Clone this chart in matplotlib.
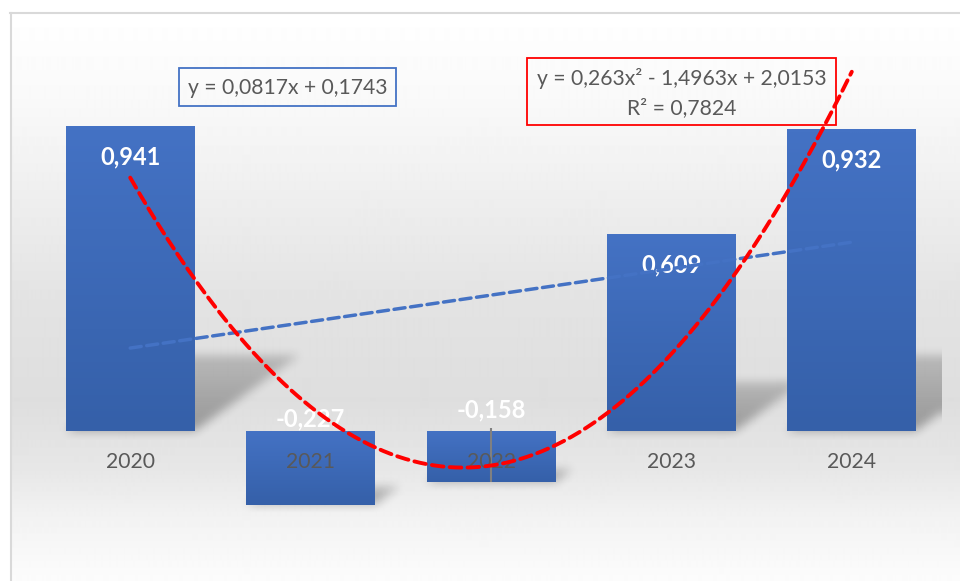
import matplotlib

matplotlib.use("Agg")
import matplotlib.pyplot as plt  # noqa: E402
import numpy as np  # noqa: E402
from matplotlib.colors import LinearSegmentedColormap  # noqa: E402
from matplotlib.patches import Rectangle  # noqa: E402

# data
years = ["2020", "2021", "2022", "2023", "2024"]
values = [0.941, -0.227, -0.158, 0.609, 0.932]
value_labels = ["0,941", "-0,227", "-0,158", "0,609", "0,932"]

# trendline coefficients as printed in the chart (highest power first)
lin_coef = [0.0817, 0.1743]
poly_coef = [0.263, -1.4963, 2.0153]
lin_label = "y = 0,0817x + 0,1743"
poly_label = "y = 0,263x² - 1,4963x + 2,0153\nR² = 0,7824"

FONT = ["Lato", "DejaVu Sans"]
GREY_TXT = "#595959"
BAR_TOP = "#4472C4"
BAR_BOT = "#3560A9"


def _box_blur(a: np.ndarray, r: int) -> np.ndarray:
    for axis in (0, 1):
        pad = [(0, 0), (0, 0)]
        pad[axis] = (r + 1, r)
        c = np.cumsum(np.pad(a, pad, mode="edge"), axis=axis)
        n = a.shape[axis]
        a = (np.take(c, range(2 * r + 1, 2 * r + 1 + n), axis=axis)
             - np.take(c, range(0, n), axis=axis)) / (2 * r + 1)
    return a


W, H = 960, 581
fig = plt.figure(figsize=(W / 100, H / 100), dpi=100)

# background layer in pixel coordinates
bg = fig.add_axes([0, 0, 1, 1], zorder=-1)
bg.set_xlim(0, W)
bg.set_ylim(H, 0)
bg.axis("off")
stops_y = [13, 100, 200, 300, 400, 470, 520, 581]
stops_v = [255, 249, 238, 227, 222, 231, 243, 252]
yy = np.arange(13, H)
col = np.interp(yy, stops_y, stops_v) / 255.0
grad = np.repeat(col[:, None], 2, axis=1)
bg.imshow(grad, cmap="gray", vmin=0, vmax=1, extent=(11, W, H, 13),
          aspect="auto", interpolation="bilinear")
bg.plot([10, W], [13, 13], color="#d9d9d9", lw=1.5)
bg.plot([10.5, 10.5], [13, H], color="#d9d9d9", lw=1.5)

# equation boxes
bg.add_patch(Rectangle((179, 68), 217, 38, fill=False, ec="#4472C4", lw=1.3))
bg.text(287.5, 88, lin_label, ha="center", va="center", fontsize=15.2,
        color=GREY_TXT, family=FONT)
bg.add_patch(Rectangle((527, 58), 309, 67, fill=False, ec="#FF0000", lw=1.3))
bg.text(681.5, 93, poly_label, ha="center", va="center", fontsize=15.2,
        color=GREY_TXT, family=FONT, linespacing=1.55, multialignment="center")

ax = fig.add_axes([40 / W, 21 / H, 902 / W, 520 / H])
ax.patch.set_alpha(0)
x = np.arange(1, len(years) + 1)
width = 0.715
xlim = (0.5, 5.5)
ylim = ((431 - 560) / 324, (431 - 40) / 324)

# perspective shadows, rendered as a blurred alpha mask
nx, ny = 902, 520
gx = np.linspace(xlim[0], xlim[1], nx)
gy = np.linspace(ylim[0], ylim[1], ny)
GX, GY = np.meshgrid(gx, gy)
mask = np.zeros((ny, nx))
for xi, v in zip(x, values):
    base = 0 if v > 0 else v
    xl, xr = xi - width / 2, xi + width / 2
    h = 0.25 * abs(v)
    s = 0.62 * abs(v)
    t = (GY - base) / h
    inside = (t >= 0) & (t <= 1) & (GX >= xl + s * t) & (GX <= xr + s * t)
    mask = np.maximum(mask, np.where(inside, 1 - 0.45 * t, 0))
mask = _box_blur(_box_blur(mask, 5), 5)
shadow = np.zeros((ny, nx, 4))
shadow[..., 3] = 0.32 * mask
ax.imshow(shadow, extent=(*xlim, *ylim), origin="lower", aspect="auto",
          zorder=1, interpolation="bilinear")

bars = ax.bar(x, values, width=width, color=BAR_TOP, zorder=2)
gcol = np.linspace(0, 1, 64)[:, None]
bar_cmap = LinearSegmentedColormap.from_list("bar", [BAR_TOP, BAR_BOT])
for b in bars:
    x0, y0 = b.get_x(), b.get_y()
    bw, bh = b.get_width(), b.get_height()
    ylo, yhi = min(y0, y0 + bh), max(y0, y0 + bh)
    im = ax.imshow(gcol, cmap=bar_cmap, extent=(x0, x0 + bw, ylo, yhi),
                   aspect="auto", zorder=2.1, interpolation="bilinear")
    im.set_clip_path(b)

# thin grey line inside the 2022 bar
ax.vlines(3, values[2], 0.01, color="#808080", lw=1.5, zorder=2.5)

# category labels
for xi, yr in zip(x, years):
    ax.annotate(yr, (xi, 0), xytext=(0, -31), textcoords="offset pixels",
                ha="center", va="center", fontsize=15.2, color=GREY_TXT,
                family=FONT, zorder=3)

# data labels
label_dy = [-31, 12, 21, -31, -31]
for xi, v, lab, dy in zip(x, values, value_labels, label_dy):
    anchor = v if v > 0 else 0
    ax.annotate(lab, (xi, anchor), xytext=(0, dy), textcoords="offset pixels",
                ha="center", va="center", fontsize=17, color="white",
                fontweight="bold", family=FONT, zorder=3)

# trendlines
xt = np.linspace(1, 5, 300)
ax.plot(xt, np.polyval(lin_coef, xt), color="#4472C4", lw=2.5,
        ls=(0, (3.2, 1.6)), dash_capstyle="round", zorder=4)
ax.plot(xt, np.polyval(poly_coef, xt), color="#FF0000", lw=2.8,
        ls=(0, (3.0, 1.6)), dash_capstyle="round", zorder=4)

ax.set_xlim(*xlim)
ax.set_ylim(*ylim)
ax.axis("off")

fig.savefig("out.png", dpi=100)
